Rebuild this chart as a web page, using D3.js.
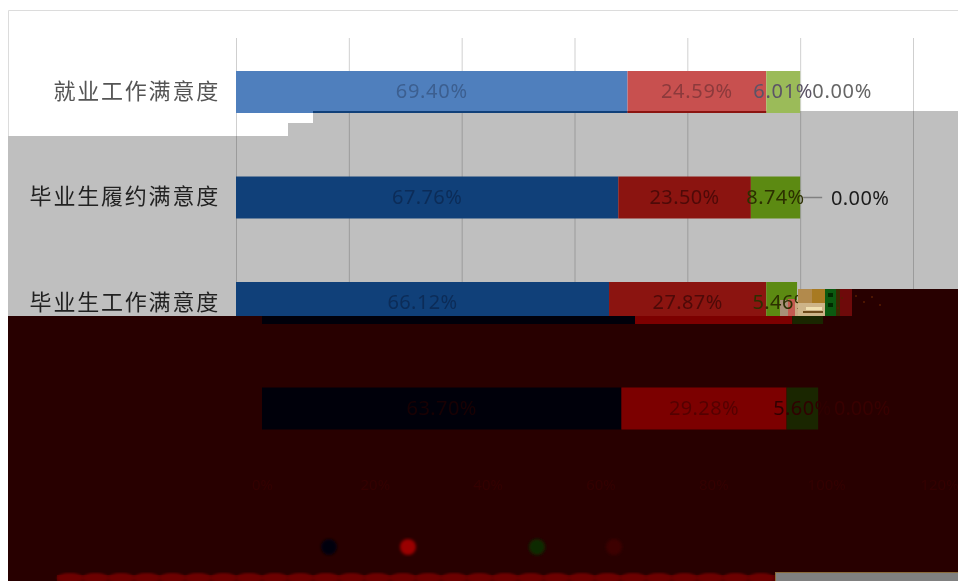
<!DOCTYPE html>
<html>
<head>
<meta charset="utf-8">
<script src="https://cdn.jsdelivr.net/npm/d3@7/dist/d3.min.js"></script>
<style>
html,body{margin:0;padding:0;background:#fff;overflow:hidden}
svg{display:block;filter:blur(0.55px)}
.val{font-family:"Noto Sans","Open Sans",sans-serif;font-size:20px;text-anchor:middle;dominant-baseline:central}
.cat{font-family:"Noto Sans CJK SC",sans-serif;font-size:22px;font-weight:400;letter-spacing:1.8px;text-anchor:end;dominant-baseline:central}
</style>
</head>
<body>
<svg id="c" width="958" height="581"></svg>
<script>
// ---- data ----
const categories = ["就业工作满意度","毕业生履约满意度","毕业生工作满意度","（遮挡）"];
const seriesA = [69.40, 67.76, 66.12, 63.70];
const seriesB = [24.59, 23.50, 27.87, 29.28];
const seriesC = [ 6.01,  8.74,  5.46,  5.60];
const seriesD = [ 0.00,  0.00,  0.00,  0.00];
const xTicks  = [0,20,40,60,80,100,120];

// ---- colour tables ----
const rowColours = {
  light: ["#4f7fbd","#c8504f","#9bbb59"],
  grey:  ["#104079","#8b1410","#5c8a12"],
  dark:  ["#00000a","#7c0000","#1a2600"]
};
const labelColours = {
  light: ["#3c5f90","#8c3a3c","#5c5466"],
  grey:  ["#0c2c58","#4e0a08","#2c3000"],
  dark:  ["#180004","#550000","#300000"]
};
const legendColours = ["#00000c","#9a0000","#0f2a00","#3c0000"];
const DARK = "#280000", GREY = "#bfbfbf";

const W = 958, H = 581;
const svg = d3.select("#c");
const x = d3.scaleLinear().domain([0,120]).range([236,913]);
const y = d3.scaleBand().domain(categories).range([39.25,461.25]).paddingInner(.602).paddingOuter(.301);
const SHIFT = 26;                 // the lower part of the image is displaced sideways

const rows = categories.map((c,i)=>{
  const v=[seriesA[i],seriesB[i],seriesC[i]];
  let acc=0;
  return {c,i,segs:v.map((d,s)=>{const o={s,v:d,x0:acc,x1:acc+d};acc+=d;return o;}),zero:seriesD[i]};
});

const defs = svg.append("defs");
defs.append("clipPath").attr("id","clipSliver").append("rect").attr("x",313).attr("y",111).attr("width",W).attr("height",4);
defs.append("clipPath").attr("id","clipLow").append("rect").attr("x",0).attr("y",316).attr("width",W).attr("height",H-316);
defs.append("clipPath").attr("id","clipHigh").append("rect").attr("x",0).attr("y",0).attr("width",W).attr("height",316);
defs.append("filter").attr("id","soft").append("feGaussianBlur").attr("stdDeviation",1.6);
defs.append("filter").attr("id","soft2").append("feGaussianBlur").attr("stdDeviation",1.2);

// card + torn grey background
svg.append("rect").attr("width",W).attr("height",H).attr("fill","#fff");
svg.append("path").attr("d","M8.5,136V10.5H958").attr("fill","none").attr("stroke","#dcdcdc");
svg.append("path")
  .attr("d",`M8,136H288V123H313V113H800V111H958V316H8Z`)
  .attr("fill",GREY);

// gridlines
svg.append("g").selectAll("line").data(xTicks).join("line")
  .attr("x1",d=>x(d)+.5).attr("x2",d=>x(d)+.5).attr("y1",38).attr("y2",316)
  .attr("stroke","#000").attr("stroke-opacity",.19);

// upper rows
function bars(g,data,pal,bx){
  g.selectAll("g").data(data).join("g").each(function(r){
    d3.select(this).selectAll("rect").data(r.segs).join("rect")
      .attr("x",d=>bx(d.x0)).attr("width",d=>bx(d.x1)-bx(d.x0))
      .attr("y",y(r.c)).attr("height",y.bandwidth())
      .attr("fill",d=>rowColours[pal(r)][d.s]);
  });
}
function barLabels(g,data,pal,bx){
  g.selectAll("g").data(data).join("g").each(function(r){
    d3.select(this).selectAll("text").data(r.segs).join("text").attr("class","val")
      .attr("x",d=>(bx(d.x0)+bx(d.x1))/2).attr("y",y(r.c)+y.bandwidth()/2-1.5)
      .attr("letter-spacing",r.i===0?"0.7px":"0.4px")
      .attr("fill",d=>labelColours[pal(r)][d.s])
      .text(d=>d.v.toFixed(2)+"%");
  });
}
const upper = rows.slice(0,3);
const palUp = r=>r.i===0?"light":"grey";
const up = svg.append("g").attr("clip-path","url(#clipHigh)");
bars(up.append("g"),upper,palUp,x);
// shadow sliver at the foot of the first bar
bars(up.append("g").attr("clip-path","url(#clipSliver)"),
     [{...rows[0],segs:rows[0].segs.slice(0,2)}],()=>"grey",x);
// mottled patch under the end of the third bar's label
up.append("g").selectAll("rect").data([
  [780,300,8,16,"#a89078"],[788,299,7,17,"#c45a50"],[795,300,4,16,"#c9a880"]
]).join("rect").attr("x",d=>d[0]).attr("y",d=>d[1]).attr("width",d=>d[2]).attr("height",d=>d[3]).attr("fill",d=>d[4]);
barLabels(up.append("g"),upper,palUp,x);

// category labels
up.append("g").selectAll("text").data(upper).join("text").attr("class","cat")
  .attr("x",220).attr("y",r=>y(r.c)+y.bandwidth()/2-3.5)
  .attr("fill",r=>r.i===0?"#555":"#222")
  .text(r=>r.c);

// zero labels (series D)
up.append("text").attr("class","val").attr("x",x(100)+42).attr("y",y(categories[0])+y.bandwidth()/2-2)
  .attr("fill","#666").attr("letter-spacing",".7px").text(seriesD[0].toFixed(2)+"%");
up.append("text").attr("class","val").attr("x",x(100)+60).attr("y",y(categories[1])+y.bandwidth()/2)
  .attr("fill","#1c1c1c").attr("letter-spacing",".4px").text(seriesD[1].toFixed(2)+"%");
up.append("line").attr("x1",x(100)+3).attr("x2",x(100)+22)
  .attr("y1",y(categories[1])+y.bandwidth()/2).attr("y2",y(categories[1])+y.bandwidth()/2)
  .attr("stroke","#808080").attr("stroke-width",1.5);

// blotches to the right of the third bar
const blotches = [
  [798,289,14,27,"#b28a4c"],[812,289,13,27,"#a87a22"],
  [798,303,27,13,"#cdb488"],[806,307,16,3,"#f0e0b0"],[803,311,20,2,"#6d4a1a"],
  [825,289,11,27,"#0b5a10"],[828,293,5,4,"#002a00"],[828,303,5,4,"#002a00"],
  [836,289,4,27,"#3a2a00"],[840,289,12,27,"#6e0a0a"],
  [852,289,106,27,DARK]
];
svg.append("g").selectAll("rect").data(blotches).join("rect")
  .attr("x",d=>d[0]).attr("y",d=>d[1]).attr("width",d=>d[2]).attr("height",d=>d[3]).attr("fill",d=>d[4]);
svg.append("g").selectAll("circle").data([[856,296],[864,302],[872,297],[880,305],[842,298],[838,308]]).join("circle")
  .attr("cx",d=>d[0]).attr("cy",d=>d[1]).attr("r",1).attr("fill","#5a1c00");

// dark, displaced lower part
svg.append("rect").attr("x",8).attr("y",316).attr("width",W-8).attr("height",H-316).attr("fill",DARK);
const xLow = v=>x(v)+SHIFT;
const low = svg.append("g").attr("clip-path","url(#clipLow)");
bars(low.append("g"),rows.slice(2),()=>"dark",xLow);
barLabels(low.append("g"),rows.slice(3),()=>"dark",xLow);
low.append("text").attr("class","val").attr("x",xLow(100)+36).attr("y",y(categories[3])+y.bandwidth()/2-1.5)
  .attr("fill","#380000").text(seriesD[3].toFixed(2)+"%");

// axis tick labels, barely visible
const axis = d3.axisBottom(d3.scaleLinear().domain([0,120]).range([x(0)+SHIFT,x(120)+SHIFT]))
  .tickValues(xTicks).tickSize(0).tickFormat(d=>d+"%");
const ax = svg.append("g").attr("transform","translate(0,476)").call(axis);
ax.select(".domain").remove();
ax.selectAll("text").attr("font-family","Noto Sans").attr("font-size",15).attr("fill","#340000");

// legend dots
const legendPos = [329,408,537,614];
svg.append("g").attr("filter","url(#soft)").selectAll("circle").data(legendColours).join("circle")
  .attr("cx",(d,i)=>legendPos[i]).attr("cy",547).attr("r",8).attr("fill",d=>d);

// bottom strip
svg.append("rect").attr("x",57).attr("y",575).attr("width",718).attr("height",6).attr("fill","#520000");
svg.append("g").attr("filter","url(#soft2)").selectAll("ellipse").data(d3.range(57,760,25.6)).join("ellipse")
  .attr("cx",d=>d+13).attr("cy",578).attr("rx",13).attr("ry",5).attr("fill","#6c0000");
svg.append("rect").attr("x",775.5).attr("y",572.5).attr("width",183).attr("height",9)
  .attr("fill","#808080").attr("stroke","#8a6a3a");
</script>
</body>
</html>
